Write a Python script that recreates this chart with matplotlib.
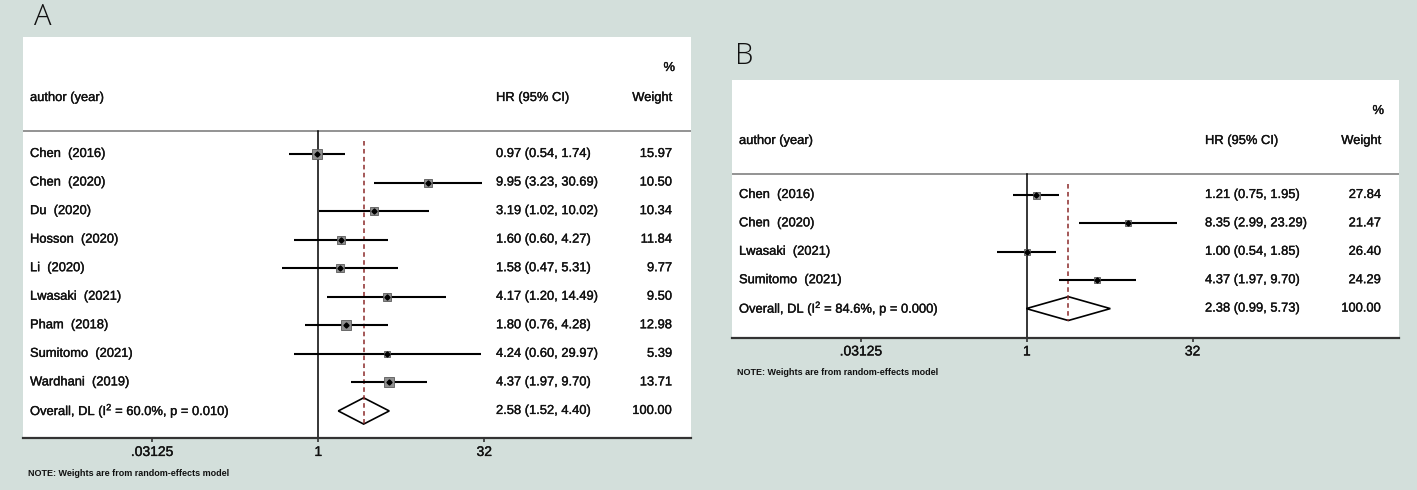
import matplotlib
matplotlib.use('Agg')
import matplotlib.pyplot as plt
import matplotlib.patheffects as pe
import numpy as np

plt.rcParams['font.family'] = ['Liberation Sans', 'DejaVu Sans']
plt.rcParams['mathtext.default'] = 'regular'

# panel A data
a_authors = ['Chen  (2016)', 'Chen  (2020)', 'Du  (2020)', 'Hosson  (2020)', 'Li  (2020)',
             'Lwasaki  (2021)', 'Pham  (2018)', 'Sumitomo  (2021)', 'Wardhani  (2019)']
a_hr = [0.97, 9.95, 3.19, 1.60, 1.58, 4.17, 1.80, 4.24, 4.37]
a_lo = [0.54, 3.23, 1.02, 0.60, 0.47, 1.20, 0.76, 0.60, 1.97]
a_hi = [1.74, 30.69, 10.02, 4.27, 5.31, 14.49, 4.28, 29.97, 9.70]
a_weight = [15.97, 10.50, 10.34, 11.84, 9.77, 9.50, 12.98, 5.39, 13.71]
a_overall = [2.58, 1.52, 4.40]
a_overall_label = r'Overall, DL (I$^2$ = 60.0%, p = 0.010)'

# panel B data
b_authors = ['Chen  (2016)', 'Chen  (2020)', 'Lwasaki  (2021)', 'Sumitomo  (2021)']
b_hr = [1.21, 8.35, 1.00, 4.37]
b_lo = [0.75, 2.99, 0.54, 1.97]
b_hi = [1.95, 23.29, 1.85, 9.70]
b_weight = [27.84, 21.47, 26.40, 24.29]
b_overall = [2.38, 0.99, 5.73]
b_overall_label = r'Overall, DL (I$^2$ = 84.6%, p = 0.000)'

tick_vals = [1/32, 1, 32]
tick_labels = ['.03125', '1', '32']

bg = '#d3dfdb'
W, H = 1417, 490
fig = plt.figure(figsize=(W/100, H/100), dpi=100, facecolor=bg)
heavy = [pe.withStroke(linewidth=0.25, foreground='#111111')]


def draw_panel(box, row0, step, authors, hr, lo, hi, weight, overall, overall_label,
               box_px, box_ref, diam_h, note_y):
    x0, x1, ytop, ybot = box
    ax = fig.add_axes([x0/W, 1 - ybot/H, (x1 - x0)/W, (ybot - ytop)/H])
    ax.set_facecolor('white')
    ax.set_xscale('log', base=2)
    ax.set_xlim(2**-8.886, 2**11.22)
    # rows in units of row spacing, first study at 0
    ax.set_ylim((ybot - row0)/step, (ytop - row0)/step)
    for s in ['top', 'left', 'right']:
        ax.spines[s].set_visible(False)
    ax.spines['bottom'].set_color('#333333')
    ax.spines['bottom'].set_linewidth(1.6)
    ax.set_yticks([])
    ax.set_xticks(tick_vals)
    ax.set_xticklabels(tick_labels)
    ax.minorticks_off()
    ax.tick_params(axis='x', length=3, width=1.2, pad=2, labelsize=10, color='#333333',
                   labelcolor='#111111')
    for t in ax.get_xticklabels():
        t.set_path_effects(heavy)

    n = len(authors)
    line_y = (ytop + 94 - row0)/step
    ax.axhline(line_y, color='#8a8a8a', lw=1.3)
    ax.plot([1, 1], [line_y, (ybot - row0)/step], color='black', lw=1.1)
    ax.plot([overall[0]]*2, [line_y + 0.35, n + diam_h], color='#8b2a2a', lw=1.1, ls=(0, (3, 2.2)))

    rows = np.arange(n)
    for i in range(n):
        ax.plot([lo[i], hi[i]], [rows[i]]*2, color='black', lw=1.5, solid_capstyle='butt')
        side = box_px*np.sqrt(weight[i]/box_ref)*0.72
        ax.plot(hr[i], rows[i], 's', ms=side, mfc='#8f8f8f', mec='#5a5a5a', mew=0.6)
        ax.plot(hr[i], rows[i], 'D', ms=2.6, color='black')

    est, clo, chi = overall
    ax.fill([clo, est, chi, est], [n, n - diam_h, n, n + diam_h], facecolor='white',
            edgecolor='black', lw=1.2)

    tf = ax.get_yaxis_transform()
    col_a = 7/(x1 - x0)
    col_hr = 473/(x1 - x0)
    col_w = 649/(x1 - x0)
    tk = dict(fontsize=9.3, va='center', color='#111111', transform=tf, path_effects=heavy)
    hy = (ytop + 61 - row0)/step
    py = (ytop + 31 - row0)/step
    ax.text(col_a, hy, 'author (year)', ha='left', **tk)
    ax.text(col_hr, hy, 'HR (95% CI)', ha='left', **tk)
    ax.text(col_w, hy, 'Weight', ha='right', **tk)
    ax.text(col_w + 3/(x1 - x0), py, '%', ha='right', **tk)
    for i in range(n):
        ax.text(col_a, rows[i], authors[i], ha='left', **tk)
        ax.text(col_hr, rows[i], '%.2f (%.2f, %.2f)' % (hr[i], lo[i], hi[i]), ha='left', **tk)
        ax.text(col_w, rows[i], '%.2f' % weight[i], ha='right', **tk)
    ax.text(col_a, n, overall_label, ha='left', **tk)
    ax.text(col_hr, n, '%.2f (%.2f, %.2f)' % (est, clo, chi), ha='left', **tk)
    ax.text(col_w, n, '%.2f' % 100, ha='right', **tk)

    fig.text((x0 + 5)/W, 1 - note_y/H, 'NOTE: Weights are from random-effects model',
             fontsize=6.5, fontweight='bold', va='center', ha='left', color='#111111')
    return ax


draw_panel((23, 691, 37, 438), 154, 28.55, a_authors, a_hr, a_lo, a_hi, a_weight,
           a_overall, a_overall_label, 10, 15.97, 0.46, 473)
draw_panel((732, 1399, 80, 337.5), 195, 28.4, b_authors, b_hr, b_lo, b_hi, b_weight,
           b_overall, b_overall_label, 7, 27.84, 0.42, 372)

fig.text(43/W, 1 - 17/H, 'A', fontsize=21, family=['Open Sans', 'DejaVu Sans'],
         fontweight='light', ha='center', va='center', color='#111111')
fig.text(744/W, 1 - 56/H, 'B', fontsize=21, family=['Open Sans', 'DejaVu Sans'],
         fontweight='light', ha='center', va='center', color='#111111')

fig.savefig('out.png', dpi=100, facecolor=bg)
